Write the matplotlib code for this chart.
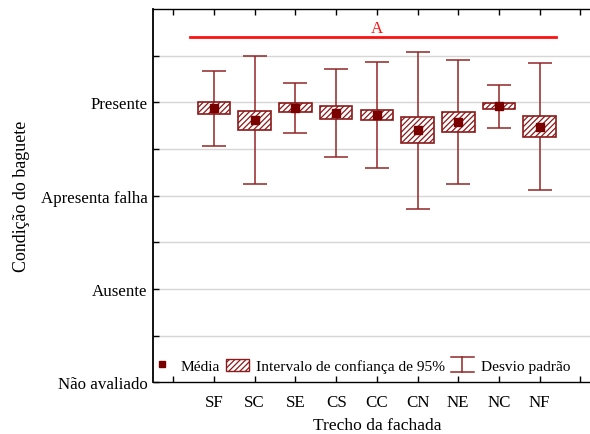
import numpy as np
import matplotlib.pyplot as plt
from matplotlib.patches import Patch
from matplotlib.lines import Line2D
from matplotlib.legend_handler import HandlerBase

plt.rcParams["font.family"] = ["Liberation Serif", "DejaVu Serif"]
plt.rcParams["hatch.color"] = "#8b1a1a"
plt.rcParams["hatch.linewidth"] = 0.9

# -----------------------------
# DATA
# -----------------------------
trechos = ["SF", "SC", "SE", "CS", "CC", "CN", "NE", "NC", "NF"]
media = [2.936, 2.810, 2.942, 2.885, 2.867, 2.700, 2.789, 2.957, 2.739]
ic_inf = [2.871, 2.707, 2.900, 2.818, 2.810, 2.564, 2.679, 2.928, 2.625]
ic_sup = [3.000, 2.910, 2.996, 2.957, 2.918, 2.839, 2.893, 2.992, 2.850]
desvio = [0.399, 0.682, 0.265, 0.468, 0.568, 0.842, 0.667, 0.228, 0.679]

niveis = ["Não avaliado", "Ausente", "Apresenta falha", "Presente"]
grupo = "A"
grupo_nivel = 3.70

FS = 12.2
escuro = "#8b1a1a"
barra = "#922626"


# -----------------------------
# LEGEND SYMBOL FOR STD DEV
# -----------------------------
class HandlerDesvio(HandlerBase):
    def create_artists(self, legend, orig_handle, xdescent, ydescent,
                       width, height, fontsize, trans):
        cx = width / 2 - xdescent
        y0 = -ydescent - 1
        y1 = height - ydescent + 1
        hw = width / 2
        kw = dict(color=barra, lw=1.1, transform=trans)
        return [Line2D([cx, cx], [y0, y1], **kw),
                Line2D([cx - hw, cx + hw], [y0, y0], **kw),
                Line2D([cx - hw, cx + hw], [y1, y1], **kw)]


# -----------------------------
# PLOT
# -----------------------------
pos = np.arange(1, len(trechos) + 1)

fig = plt.figure(figsize=(5.9, 4.35), dpi=100)
ax = fig.add_axes([0.2593, 0.1184, 0.7588, 0.8586])

ax.set_ylim(0, 4)
ax.set_xlim(-0.5, 10.5)

# grid at every half level
for g in np.arange(0.5, 4.0, 0.5):
    ax.axhline(g, color="#d6d6d6", lw=1.0, zorder=0)

# standard deviation bars
ax.errorbar(pos, media, yerr=desvio, fmt="none", ecolor=barra,
            elinewidth=1.1, capsize=8.3, capthick=1.1, zorder=2)

# 95% confidence boxes
for x, lo, hi in zip(pos, ic_inf, ic_sup):
    ax.bar(x, hi - lo, bottom=lo, width=0.8, facecolor="white",
           edgecolor=escuro, hatch="//////", lw=1.2, zorder=3)

# means
ax.plot(pos, media, "s", color="#7a0000", ms=5.3, zorder=4, ls="none")

# homogeneous group line
ax.plot([0.4, 9.4], [grupo_nivel, grupo_nivel], color="#ff1010", lw=2, zorder=2)
ax.text(5.0, grupo_nivel + 0.05, grupo, color="#ff1010", ha="center",
        va="baseline", fontsize=FS)

# axes and ticks
ax.set_yticks(range(4))
ax.set_yticklabels(niveis, fontsize=FS)
ax.set_yticks(np.arange(0.5, 4, 1.0), minor=True)
ax.set_xticks(range(0, 11))
ax.set_xticklabels([""] + trechos + [""], fontsize=FS)
ax.tick_params(axis="both", which="both", direction="in", length=4,
               top=True, width=1.0)
ax.tick_params(axis="x", pad=8)
ax.tick_params(axis="y", pad=4)
for s in ax.spines.values():
    s.set_linewidth(1.0)
ax.spines["left"].set_linewidth(1.3)

ax.set_xlabel("Trecho da fachada", fontsize=12.6, labelpad=5)
ax.set_ylabel("Condição do baguete", fontsize=12.9, labelpad=7.5)

# legend
h_media = Line2D([], [], marker="s", color="#7a0000", ls="none", ms=5)
h_ic = Patch(facecolor="white", edgecolor=escuro, hatch="//////", lw=1.0)
h_dp = object()
ax.legend([h_media, h_ic, h_dp],
          ["Média", "Intervalo de confiança de 95%", "Desvio padrão"],
          handler_map={h_dp: HandlerDesvio()},
          loc="center left", bbox_to_anchor=(150 / 590, 1 - 367 / 435),
          bbox_transform=fig.transFigure, ncol=3,
          frameon=False, fontsize=11.1, handlelength=1.5, handleheight=0.8,
          handletextpad=0.45, columnspacing=0.4, borderaxespad=0.0,
          borderpad=0.0)

fig.savefig("out.png", dpi=100)
